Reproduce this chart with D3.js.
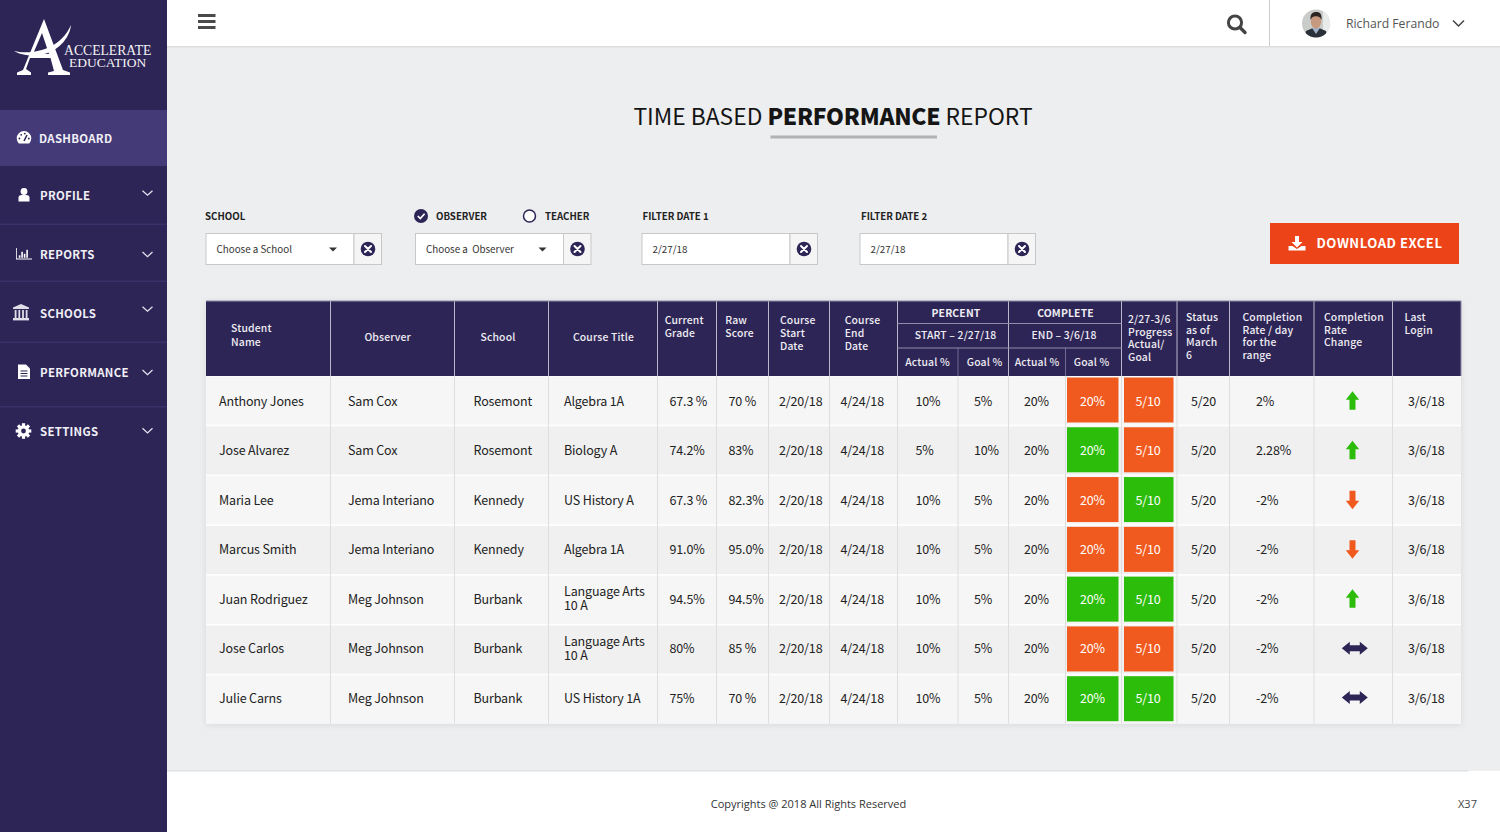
<!DOCTYPE html>
<html>
<head>
<meta charset="utf-8">
<script src="https://cdn.jsdelivr.net/npm/d3@7"></script>
<style>
  html, body { margin: 0; padding: 0; background: #edeef0; overflow: hidden; }
  text { font-family: "Noto Sans CJK SC", "Noto Sans", sans-serif; white-space: pre; }
</style>
</head>
<body>
<div id="page"></div>
<script>
var svgWidth = 1500;
var svgHeight = 832;

var navy = "#2e2557";
var orange = "#f15a1e";
var green = "#2cbc0a";

var svg = d3.select("#page")
  .append("svg")
  .attr("width", svgWidth)
  .attr("height", svgHeight)
  .style("display", "block");

svg.append("rect").attr("width", svgWidth).attr("height", svgHeight).attr("fill", "#edeef0");

var defs = svg.append("defs");
defs.append("filter").attr("id", "tableShadow")
  .attr("x", "-2%").attr("y", "-2%").attr("width", "104%").attr("height", "104%")
  .append("feDropShadow")
  .attr("dx", 0).attr("dy", 1).attr("stdDeviation", 3)
  .attr("flood-color", "#000").attr("flood-opacity", 0.1);

// small helper for text
function label(g, x, y, str, opts) {
  opts = opts || {};
  return g.append("text")
    .attr("x", x).attr("y", y)
    .attr("font-size", opts.size || 12)
    .attr("font-weight", opts.weight || 400)
    .attr("fill", opts.fill || "#222")
    .attr("text-anchor", opts.anchor || "start")
    .attr("letter-spacing", opts.spacing || 0)
    .style("font-family", opts.family || null)
    .text(str);
}

// ---------- top bar and footer ----------
var topBar = svg.append("g");
topBar.append("rect").attr("x", 167).attr("width", 1333).attr("height", 46).attr("fill", "#fff");
topBar.append("rect").attr("x", 167).attr("y", 46).attr("width", 1333).attr("height", 1.5).attr("fill", "#dcdde0");
topBar.append("rect").attr("x", 1269).attr("width", 1).attr("height", 46).attr("fill", "#cfcfcf");

[14, 20, 26].forEach(function(y) {
  topBar.append("rect").attr("x", 198).attr("y", y).attr("width", 17.5).attr("height", 3).attr("fill", "#4a4a4a");
});

topBar.append("circle").attr("cx", 1235).attr("cy", 22.5).attr("r", 6.6)
  .attr("fill", "none").attr("stroke", "#444").attr("stroke-width", 3);
topBar.append("line").attr("x1", 1240).attr("y1", 27.5).attr("x2", 1245).attr("y2", 32.5)
  .attr("stroke", "#444").attr("stroke-width", 3.4).attr("stroke-linecap", "round");

// avatar
defs.append("clipPath").attr("id", "avatarClip")
  .append("circle").attr("cx", 1316).attr("cy", 23.5).attr("r", 14);
var avatar = topBar.append("g").attr("clip-path", "url(#avatarClip)");
avatar.append("rect").attr("x", 1302).attr("y", 9).attr("width", 28).attr("height", 29).attr("fill", "#c9ccc9");
avatar.append("rect").attr("x", 1323).attr("y", 9).attr("width", 7).attr("height", 29).attr("fill", "#e8ebea");
avatar.append("path").attr("d", "M1304 38 L1306 31 L1313 28 L1319 28 L1326 31 L1328 38 Z").attr("fill", "#2a303a");
avatar.append("path").attr("d", "M1312 28 L1316 34 L1320 28 Z").attr("fill", "#9fb0c8");
avatar.append("ellipse").attr("cx", 1316).attr("cy", 21.5).attr("rx", 5.2).attr("ry", 7).attr("fill", "#c79a7f");
avatar.append("path").attr("d", "M1310.5 20 C1310 13 1313 12 1316.5 12 C1320 12 1322 14 1321.5 20 C1320 16 1317 16 1314 16.5 C1312 17 1311.5 18 1310.5 20 Z").attr("fill", "#2c2522");

label(topBar, 1346, 28, "Richard Ferando", { size: 12.2, fill: "#555", family: "'Open Sans'" });
topBar.append("path").attr("d", "M1453 20.5 L1458.5 26 L1464 20.5").attr("fill", "none")
  .attr("stroke", "#444").attr("stroke-width", 1.5);

var footerG = svg.append("g");
footerG.append("rect").attr("x", 167).attr("y", 771).attr("width", 1333).attr("height", 61).attr("fill", "#fff");
footerG.append("rect").attr("x", 167).attr("y", 770).attr("width", 1301).attr("height", 1.5).attr("fill", "#e0e1e3");
label(footerG, 808.5, 807.5, "Copyrights @ 2018 All Rights Reserved", { size: 11, fill: "#333", anchor: "middle", family: "'Open Sans'" });
label(footerG, 1458, 807.5, "X37", { size: 11, fill: "#444", family: "'Open Sans'" });

// ---------- sidebar ----------
var navItems = [
  { name: "DASHBOARD", y: 139, icon: "gauge", ix: 24, active: true },
  { name: "PROFILE", y: 196, icon: "user", ix: 24, line: 224.5, chevron: 190.7 },
  { name: "REPORTS", y: 255, icon: "bars", ix: 24, line: 281.5, chevron: 252 },
  { name: "SCHOOLS", y: 314, icon: "bank", ix: 21, line: 342.5, chevron: 306.7 },
  { name: "PERFORMANCE", y: 373, icon: "file", ix: 24, line: 407, chevron: 370 },
  { name: "SETTINGS", y: 432, icon: "gear", ix: 23.5, chevron: 428.3 }
];

var side = svg.append("g");
side.append("rect").attr("width", 167).attr("height", svgHeight).attr("fill", navy);
side.append("rect").attr("y", 110).attr("width", 167).attr("height", 56).attr("fill", "#443a78");

function drawIcon(g, kind, x, y) {
  var c = g.append("g").attr("transform", "translate(" + x + "," + (y - 1) + ")").attr("fill", "#fff");
  if (kind == "gauge") {
    c.append("path").attr("d", "M-5.2 5.5 A7.3 7.3 0 1 1 5.2 5.5 Z");
    c.append("line").attr("x1", 0).attr("y1", 3).attr("x2", 3).attr("y2", -3).attr("stroke", navy).attr("stroke-width", 1.5);
    [[-4.6, 0.5], [-2.8, -3.2], [0.8, -4.4], [4.8, 0.5]].forEach(function(p) {
      c.append("circle").attr("cx", p[0]).attr("cy", p[1]).attr("r", 0.9).attr("fill", navy);
    });
  } else if (kind == "user") {
    c.append("circle").attr("cy", -3.5).attr("r", 3.4);
    c.append("path").attr("d", "M-5.5 6.5 L-5.5 2 Q-5 0 -2.5 0 L2.5 0 Q5 0 5.5 2 L5.5 6.5 Z");
  } else if (kind == "bars") {
    c.append("path").attr("d", "M-8 -6 L-7.2 -6 L-7.2 4.6 L8 4.6 L8 5.6 L-8 5.6 Z");
    [[-5.2, 2.5], [-2.7, 6], [-0.2, 4], [2.3, 8]].forEach(function(b) {
      c.append("rect").attr("x", b[0]).attr("y", 3.8 - b[1]).attr("width", 1.6).attr("height", b[1]);
    });
  } else if (kind == "bank") {
    c.attr("fill", "#dedde8");
    c.append("path").attr("d", "M0 -9 L8 -5.5 L8 -4 L-8 -4 L-8 -5.5 Z");
    [-6, -2.3, 1.4, 5].forEach(function(bx) {
      c.append("rect").attr("x", bx - 0.3).attr("y", -3).attr("width", 1.8).attr("height", 8);
    });
    c.append("rect").attr("x", -8).attr("y", 5).attr("width", 16).attr("height", 2.4);
  } else if (kind == "file") {
    c.append("path").attr("d", "M-6 -7.5 L2 -7.5 L6 -3.5 L6 7 L-6 7 Z");
    [-1, 1.5, 4].forEach(function(ly) {
      c.append("rect").attr("x", -3.5).attr("y", ly - 0.5).attr("width", 7).attr("height", 1).attr("fill", navy);
    });
  } else if (kind == "gear") {
    c.append("circle").attr("r", 5.8);
    d3.range(8).forEach(function(i) {
      c.append("rect").attr("x", -1.6).attr("y", -7.8).attr("width", 3.2).attr("height", 3.5)
        .attr("transform", "rotate(" + (i * 45) + ")");
    });
    c.append("circle").attr("r", 2.4).attr("fill", navy);
  }
}

navItems.forEach(function(d) {
  drawIcon(side, d.icon, d.ix, d.y);
  label(side, d.active ? 39 : 40, d.y + 4, d.name, { size: 11.4, weight: 700, fill: "#f1f0f6", spacing: 0.3 });
  if (d.line) side.append("rect").attr("y", d.line - 1).attr("width", 167).attr("height", 1.5).attr("fill", "#3a3168");
  if (d.chevron) {
    side.append("path")
      .attr("d", "M142.5 " + d.chevron + " l5 4.6 l5 -4.6")
      .attr("fill", "none").attr("stroke", "#e8e7f0").attr("stroke-width", 1.2);
  }
});

// logo
var logo = side.append("g");
logo.append("path").attr("fill", "#fff").attr("fill-rule", "evenodd")
  .attr("d", "M44 19 L63 70 L70 72.5 L70 75 L48 75 L48 72.5 L54 71 L50.5 58 L30 58 L26 69 L31 72.5 L31 75 L17 75 L17 72.5 L23 70 Z M42 33 L33 54 L49 54 Z");
logo.append("path").attr("fill", "#fff")
  .attr("d", "M14 51 C32 55 60 50 71 25 C69 44 48 59 26 55 C21 54 17 53 14 51 Z");
label(logo, 64, 54.5, "ACCELERATE", { size: 13.7, fill: "#f4f4f4", family: "'Liberation Serif'" });
label(logo, 69, 66.8, "EDUCATION", { size: 13.5, fill: "#f4f4f4", family: "'Liberation Serif'" });

// ---------- title ----------
var title = svg.append("text").attr("x", 833).attr("y", 125).attr("text-anchor", "middle")
  .attr("font-size", 22.8).attr("fill", "#151515");
title.append("tspan").text("TIME BASED ");
title.append("tspan").attr("font-weight", 900).attr("letter-spacing", -0.25).text("PERFORMANCE");
title.append("tspan").text(" REPORT");
svg.append("rect").attr("x", 770.5).attr("y", 135.5).attr("width", 166.5).attr("height", 3).attr("fill", "#b2b2b2");

// ---------- filters ----------
var filters = [
  { x: 206, text: "Choose a School", caret: true },
  { x: 415.5, text: "Choose a  Observer", caret: true },
  { x: 642, text: "2/27/18" },
  { x: 860, text: "2/27/18" }
];
var filterG = svg.append("g");
var filterLabels = [[205, "SCHOOL"], [436, "OBSERVER"], [545, "TEACHER"], [642.5, "FILTER DATE 1"], [861, "FILTER DATE 2"]];
filterLabels.forEach(function(f) {
  label(filterG, f[0], 220, f[1], { size: 9.7, weight: 700, fill: "#222" });
});

filterG.append("circle").attr("cx", 421).attr("cy", 216).attr("r", 7).attr("fill", navy);
filterG.append("path").attr("d", "M417.8 216 L420.3 218.6 L424.6 213.8").attr("fill", "none")
  .attr("stroke", "#fff").attr("stroke-width", 1.7);
filterG.append("circle").attr("cx", 529.5).attr("cy", 216).attr("r", 6).attr("fill", "#fff")
  .attr("stroke", navy).attr("stroke-width", 1.5);

filters.forEach(function(f) {
  filterG.append("rect").attr("x", f.x).attr("y", 233.5).attr("width", 148).attr("height", 31)
    .attr("fill", "#fff").attr("stroke", "#c8c8c8").attr("stroke-width", 1);
  filterG.append("rect").attr("x", f.x + 148).attr("y", 233.5).attr("width", 27.5).attr("height", 31)
    .attr("fill", "#f6f5f6").attr("stroke", "#c8c8c8").attr("stroke-width", 1);
  label(filterG, f.x + 10.5, 253, f.text, { size: 9.8, fill: "#333" });
  if (f.caret) {
    filterG.append("path").attr("d", "M" + (f.x + 123) + " 247.5 h8 l-4 4 Z").attr("fill", "#333");
  }
  var cx = f.x + 162;
  filterG.append("circle").attr("cx", cx).attr("cy", 249).attr("r", 7.3).attr("fill", navy);
  filterG.append("path").attr("d", "M" + (cx - 3) + " 246 l6 6 m0 -6 l-6 6").attr("stroke", "#fff")
    .attr("stroke-width", 2).attr("stroke-linecap", "round");
});

// download button
var btn = svg.append("g");
btn.append("rect").attr("x", 1270).attr("y", 223).attr("width", 189).attr("height", 41).attr("fill", "#ec4318");
btn.append("path").attr("fill", "#fff")
  .attr("d", "M1295 236 h4 v6 h3.5 l-5.5 5.5 l-5.5 -5.5 h3.5 Z M1288.5 246 h4 l4.5 3 l4.5 -3 h4 v4.5 h-17 Z");
label(btn, 1316.5, 248.3, "DOWNLOAD EXCEL", { size: 13.1, weight: 700, fill: "#fff", spacing: 0.5 });

// ---------- table ----------
var rows = [
  { student: "Anthony Jones", observer: "Sam Cox", school: "Rosemont", course: ["Algebra 1A"], grade: "67.3 %", raw: "70 %", start: "2/20/18", end: "4/24/18", act1: "10%", goal1: "5%", act2: "20%", goal2: "20%", goal2Ok: false, prog: "5/10", progOk: false, status: "5/20", rate: "2%", change: "up", login: "3/6/18" },
  { student: "Jose Alvarez", observer: "Sam Cox", school: "Rosemont", course: ["Biology A"], grade: "74.2%", raw: "83%", start: "2/20/18", end: "4/24/18", act1: "5%", goal1: "10%", act2: "20%", goal2: "20%", goal2Ok: true, prog: "5/10", progOk: false, status: "5/20", rate: "2.28%", change: "up", login: "3/6/18" },
  { student: "Maria Lee", observer: "Jema Interiano", school: "Kennedy", course: ["US History A"], grade: "67.3 %", raw: "82.3%", start: "2/20/18", end: "4/24/18", act1: "10%", goal1: "5%", act2: "20%", goal2: "20%", goal2Ok: false, prog: "5/10", progOk: true, status: "5/20", rate: "-2%", change: "down", login: "3/6/18" },
  { student: "Marcus Smith", observer: "Jema Interiano", school: "Kennedy", course: ["Algebra 1A"], grade: "91.0%", raw: "95.0%", start: "2/20/18", end: "4/24/18", act1: "10%", goal1: "5%", act2: "20%", goal2: "20%", goal2Ok: false, prog: "5/10", progOk: false, status: "5/20", rate: "-2%", change: "down", login: "3/6/18" },
  { student: "Juan Rodriguez", observer: "Meg Johnson", school: "Burbank", course: ["Language Arts", "10 A"], grade: "94.5%", raw: "94.5%", start: "2/20/18", end: "4/24/18", act1: "10%", goal1: "5%", act2: "20%", goal2: "20%", goal2Ok: true, prog: "5/10", progOk: true, status: "5/20", rate: "-2%", change: "up", login: "3/6/18" },
  { student: "Jose Carlos", observer: "Meg Johnson", school: "Burbank", course: ["Language Arts", "10 A"], grade: "80%", raw: "85 %", start: "2/20/18", end: "4/24/18", act1: "10%", goal1: "5%", act2: "20%", goal2: "20%", goal2Ok: false, prog: "5/10", progOk: false, status: "5/20", rate: "-2%", change: "flat", login: "3/6/18" },
  { student: "Julie Carns", observer: "Meg Johnson", school: "Burbank", course: ["US History 1A"], grade: "75%", raw: "70 %", start: "2/20/18", end: "4/24/18", act1: "10%", goal1: "5%", act2: "20%", goal2: "20%", goal2Ok: true, prog: "5/10", progOk: true, status: "5/20", rate: "-2%", change: "flat", login: "3/6/18" }
];

// column left edges, and where the cell text starts
var columns = [
  { key: "student", edge: 206, text: 219 },
  { key: "observer", edge: 330.5, text: 348 },
  { key: "school", edge: 454.5, text: 473.5 },
  { key: "course", edge: 548.5, text: 564 },
  { key: "grade", edge: 657.5, text: 669.5 },
  { key: "raw", edge: 716.5, text: 728.5 },
  { key: "start", edge: 768.5, text: 779 },
  { key: "end", edge: 829.5, text: 840.5 },
  { key: "act1", edge: 897.5, text: 915.5 },
  { key: "goal1", edge: 958, text: 974 },
  { key: "act2", edge: 1008.5, text: 1024 },
  { key: "goal2", edge: 1065.5, text: 1092.5 },
  { key: "prog", edge: 1121.5, text: 1148 },
  { key: "status", edge: 1177, text: 1191 },
  { key: "rate", edge: 1229.5, text: 1256 },
  { key: "change", edge: 1314, text: 1352.5 },
  { key: "login", edge: 1392.5, text: 1408 }
];
var tableRight = 1461;

var xEdge = d3.scaleOrdinal(columns.map(d => d.key), columns.map(d => d.edge));
var xText = d3.scaleOrdinal(columns.map(d => d.key), columns.map(d => d.text));
var yRow = d3.scaleBand().domain(d3.range(rows.length)).range([376.5, 723.5]).paddingInner(0.03).paddingOuter(0);
var yText = d3.scalePoint().domain(d3.range(rows.length)).range([406, 702.8]);

var table = svg.append("g");
table.append("rect").attr("x", 206).attr("y", 301).attr("width", tableRight - 206).attr("height", 422.5)
  .attr("fill", "#fff").attr("filter", "url(#tableShadow)");

// body rows
var rowG = table.selectAll(".row").data(rows).enter().append("g").attr("class", "row");
rowG.append("rect")
  .attr("x", 206)
  .attr("y", (d, i) => yRow(i))
  .attr("width", tableRight - 206)
  .attr("height", yRow.bandwidth())
  .attr("fill", (d, i) => i % 2 ? "#f0f0f0" : "#f6f6f6");

// column separators in the body
columns.slice(1).forEach(function(c) {
  table.append("line")
    .attr("x1", xEdge(c.key)).attr("x2", xEdge(c.key))
    .attr("y1", 376).attr("y2", 723.5)
    .attr("stroke", "#dedede").attr("stroke-width", 1);
});

// coloured cells
var cellG = table.append("g");
[["goal2", 1067, 51.5, "goal2Ok"], ["prog", 1124, 49.5, "progOk"]].forEach(function(cfg) {
  cellG.selectAll(".cell-" + cfg[0]).data(rows).enter().append("rect")
    .attr("x", cfg[1])
    .attr("y", (d, i) => yRow(i) + 1)
    .attr("width", cfg[2])
    .attr("height", 45)
    .attr("fill", d => d[cfg[3]] ? green : orange);
});

// cell text
var textG = table.append("g");
columns.forEach(function(c) {
  if (c.key == "change" || c.key == "course") return;
  var filled = c.key == "goal2" || c.key == "prog";
  textG.selectAll(".col-" + c.key).data(rows).enter().append("text")
    .attr("x", xText(c.key))
    .attr("y", (d, i) => yText(i))
    .attr("font-size", 12.5)
    .attr("letter-spacing", -0.15)
    .attr("fill", filled ? "#fff" : "#222")
    .attr("text-anchor", filled ? "middle" : "start")
    .text(d => d[c.key]);
});

rows.forEach(function(d, i) {
  var lineY = yText(i) - (d.course.length - 1) * 7.5;
  d.course.forEach(function(s, k) {
    label(textG, xText("course"), lineY + k * 14, s, { size: 12.5, spacing: -0.15 });
  });

  // change arrows
  var a = textG.append("g").attr("transform", "translate(" + xText("change") + "," + (yText(i) - 5.2) + ")");
  if (d.change == "up") {
    a.append("path").attr("d", "M0 -9.5 L6.7 -1 L3 -1 L3 9 L-3 9 L-3 -1 L-6.7 -1 Z").attr("fill", green);
  } else if (d.change == "down") {
    a.append("path").attr("d", "M-3 -9 L3 -9 L3 1 L6.7 1 L0 9.5 L-6.7 1 L-3 1 Z").attr("fill", orange);
  } else {
    a.append("path").attr("d", "M-10.7 0 L-2.7 -6.5 L-2.7 -3 L7.3 -3 L7.3 -6.5 L15.3 0 L7.3 6.5 L7.3 3 L-2.7 3 L-2.7 6.5 Z").attr("fill", navy);
  }
});

// header
var head = table.append("g");
head.append("rect").attr("x", 206).attr("y", 301).attr("width", tableRight - 206).attr("height", 75).attr("fill", navy);

var headLine = "#8f8ba8";
columns.slice(1).forEach(function(c) {
  var sub = c.key == "goal1" || c.key == "goal2";
  head.append("line")
    .attr("x1", xEdge(c.key)).attr("x2", xEdge(c.key))
    .attr("y1", sub ? 348 : 301).attr("y2", 376)
    .attr("stroke", sub ? "#6f6a90" : "#b9b7c9").attr("stroke-width", 1);
});
head.append("line").attr("x1", tableRight).attr("x2", tableRight).attr("y1", 301).attr("y2", 376).attr("stroke", headLine);
[323.5, 348].forEach(function(y) {
  head.append("line").attr("x1", 897.5).attr("x2", 1121.5).attr("y1", y).attr("y2", y).attr("stroke", headLine);
});
head.append("line").attr("x1", 206).attr("x2", tableRight).attr("y1", 301).attr("y2", 301).attr("stroke", headLine);

var headers = [
  { x: 231, y: 332.3, step: 13.6, lines: ["Student", "Name"] },
  { x: 387.7, y: 340.7, lines: ["Observer"], anchor: "middle" },
  { x: 498, y: 340.7, lines: ["School"], anchor: "middle" },
  { x: 603.5, y: 340.7, lines: ["Course Title"], anchor: "middle" },
  { x: 664.7, y: 324.3, lines: ["Current", "Grade"] },
  { x: 725.3, y: 324.3, lines: ["Raw", "Score"] },
  { x: 780, y: 324.3, lines: ["Course", "Start", "Date"] },
  { x: 844.7, y: 324.3, lines: ["Course", "End", "Date"] },
  { x: 956, y: 316.5, lines: ["PERCENT"], anchor: "middle", weight: 700 },
  { x: 1065.5, y: 316.5, lines: ["COMPLETE"], anchor: "middle", weight: 700 },
  { x: 955.5, y: 339.3, lines: ["START – 2/27/18"], anchor: "middle" },
  { x: 1064, y: 339.3, lines: ["END – 3/6/18"], anchor: "middle" },
  { x: 927.5, y: 365.5, lines: ["Actual %"], anchor: "middle" },
  { x: 984.5, y: 365.5, lines: ["Goal %"], anchor: "middle" },
  { x: 1037, y: 365.5, lines: ["Actual %"], anchor: "middle" },
  { x: 1091.5, y: 365.5, lines: ["Goal %"], anchor: "middle" },
  { x: 1128, y: 323.3, step: 12.4, lines: ["2/27-3/6", "Progress", "Actual/", "Goal"] },
  { x: 1186, y: 321, lines: ["Status", "as of", "March", "6"] },
  { x: 1242.5, y: 321, lines: ["Completion", "Rate / day", "for the", "range"] },
  { x: 1324, y: 321, lines: ["Completion", "Rate", "Change"] },
  { x: 1404.5, y: 321, lines: ["Last", "Login"] }
];
headers.forEach(function(h) {
  h.lines.forEach(function(s, k) {
    label(head, h.x, h.y + k * (h.step || 12.6), s, {
      size: 10.4, weight: h.weight || 500, fill: "#eeedf3",
      anchor: h.anchor, spacing: 0.15
    });
  });
});
</script>
</body>
</html>
